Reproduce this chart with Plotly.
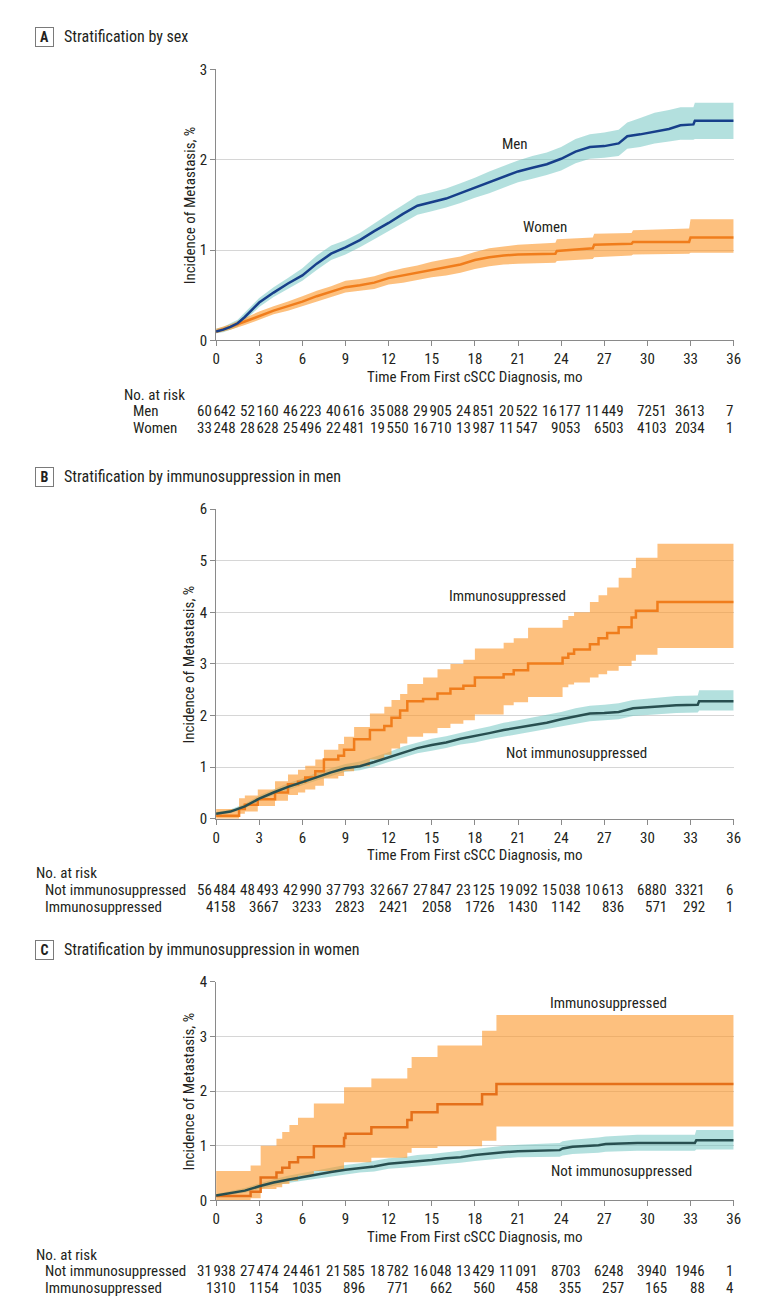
import plotly.graph_objects as go

W, H = 780, 1308
FONT = "Liberation Sans Narrow, Roboto Condensed, DejaVu Sans Condensed, Arial Narrow, sans-serif"

months = list(range(0, 37, 3))

# ---- Panel A: stratification by sex ----
men_t = [0, 0.5, 1, 1.5, 2, 3, 4, 5, 6, 7, 8, 9, 10, 11, 12, 13, 14, 15, 16, 17, 18, 19, 20, 21,
         22, 23, 24, 25, 26, 27, 28, 28.6, 29.5, 30.5, 31.5, 32.3, 33.2, 33.3, 36]
men_est = [0.10, 0.12, 0.15, 0.19, 0.26, 0.42, 0.53, 0.63, 0.72, 0.85, 0.96, 1.03, 1.11, 1.21, 1.30,
           1.40, 1.49, 1.53, 1.57, 1.63, 1.69, 1.75, 1.81, 1.87, 1.91, 1.95, 2.01, 2.09, 2.14, 2.15,
           2.18, 2.26, 2.28, 2.31, 2.34, 2.38, 2.39, 2.43, 2.43]
men_lo = [0.08, 0.09, 0.12, 0.15, 0.22, 0.37, 0.48, 0.57, 0.66, 0.78, 0.89, 0.95, 1.03, 1.12, 1.21,
          1.30, 1.39, 1.43, 1.47, 1.52, 1.58, 1.63, 1.69, 1.75, 1.79, 1.83, 1.88, 1.96, 2.01, 2.02,
          2.04, 2.12, 2.14, 2.18, 2.20, 2.22, 2.22, 2.23, 2.23]
men_hi = [0.13, 0.15, 0.19, 0.23, 0.31, 0.47, 0.59, 0.69, 0.80, 0.94, 1.05, 1.11, 1.19, 1.30, 1.40,
          1.50, 1.60, 1.64, 1.68, 1.74, 1.80, 1.87, 1.93, 1.99, 2.04, 2.08, 2.14, 2.23, 2.28, 2.30,
          2.33, 2.41, 2.46, 2.52, 2.55, 2.58, 2.58, 2.63, 2.63]

women_t = [0, 1, 2, 3, 4, 5, 6, 7, 8, 9, 10, 11, 12, 13, 14, 15, 16, 17, 18, 19, 20, 21,
           23.6, 23.7, 26.2, 26.3, 28.9, 29, 32.9, 33, 36]
women_est = [0.10, 0.15, 0.21, 0.27, 0.33, 0.38, 0.43, 0.49, 0.54, 0.59, 0.61, 0.64, 0.69, 0.72,
             0.75, 0.78, 0.81, 0.84, 0.89, 0.92, 0.94, 0.95, 0.96, 0.99, 1.02, 1.06, 1.07, 1.09,
             1.09, 1.14, 1.14]
women_lo = [0.08, 0.12, 0.17, 0.23, 0.29, 0.33, 0.38, 0.43, 0.48, 0.53, 0.55, 0.57, 0.62, 0.64,
            0.67, 0.70, 0.72, 0.75, 0.79, 0.82, 0.84, 0.85, 0.86, 0.88, 0.90, 0.92, 0.94, 0.95,
            0.96, 0.97, 0.97]
women_hi = [0.13, 0.18, 0.25, 0.32, 0.38, 0.43, 0.49, 0.55, 0.60, 0.66, 0.68, 0.71, 0.76, 0.80,
            0.83, 0.87, 0.90, 0.93, 0.98, 1.02, 1.04, 1.06, 1.08, 1.12, 1.14, 1.18, 1.19, 1.22,
            1.24, 1.34, 1.34]

# ---- Panel B: immunosuppression in men ----
bn_t = [0, 1, 2, 3, 4, 5, 6, 7, 8, 9, 10, 11, 12, 13, 14, 15, 16, 17, 18, 19, 20, 21, 22, 23,
        24, 25, 26, 27, 28, 29, 30, 31, 32, 33.5, 33.6, 36]
bn_est = [0.10, 0.14, 0.24, 0.39, 0.51, 0.62, 0.71, 0.81, 0.90, 0.98, 1.02, 1.10, 1.19, 1.29,
          1.37, 1.43, 1.48, 1.55, 1.60, 1.66, 1.72, 1.77, 1.82, 1.86, 1.93, 1.99, 2.04, 2.05,
          2.07, 2.14, 2.16, 2.18, 2.20, 2.21, 2.28, 2.28]
bn_lo = [0.08, 0.11, 0.20, 0.34, 0.46, 0.56, 0.65, 0.74, 0.83, 0.91, 0.94, 1.01, 1.10, 1.19,
         1.27, 1.32, 1.37, 1.44, 1.48, 1.54, 1.59, 1.64, 1.69, 1.73, 1.79, 1.84, 1.89, 1.91,
         1.93, 1.99, 2.01, 2.03, 2.05, 2.06, 2.10, 2.10]
bn_hi = [0.13, 0.18, 0.29, 0.45, 0.57, 0.69, 0.78, 0.89, 0.98, 1.06, 1.11, 1.20, 1.29, 1.40,
         1.48, 1.55, 1.60, 1.67, 1.73, 1.79, 1.86, 1.91, 1.96, 2.01, 2.07, 2.14, 2.19, 2.21,
         2.24, 2.30, 2.33, 2.36, 2.38, 2.39, 2.49, 2.49]

bi_t = [0, 1.6, 2.0, 2.9, 4.1, 5.0, 5.7, 6.2, 6.9, 7.5, 8.5, 8.9, 9.6, 10.7, 11.7, 12.2, 12.8,
        13.3, 14.4, 15.4, 16.3, 17.2, 18.0, 20.0, 20.7, 21.7, 24.1, 24.5, 24.9, 26.0, 26.6,
        27.2, 28.0, 28.9, 29.2, 30.7, 36]
bi_est = [0.06, 0.19, 0.27, 0.38, 0.51, 0.67, 0.72, 0.80, 0.92, 1.15, 1.22, 1.34, 1.54, 1.72,
          1.80, 1.96, 2.10, 2.28, 2.32, 2.43, 2.52, 2.58, 2.74, 2.80, 2.88, 3.01, 3.12, 3.20,
          3.28, 3.38, 3.50, 3.60, 3.71, 3.90, 4.03, 4.20, 4.20]
bi_lo = [0.00, 0.10, 0.14, 0.25, 0.35, 0.46, 0.51, 0.57, 0.64, 0.78, 0.83, 0.92, 1.02, 1.15,
         1.24, 1.36, 1.46, 1.59, 1.66, 1.76, 1.84, 1.91, 2.02, 2.20, 2.26, 2.36, 2.55, 2.60,
         2.64, 2.74, 2.80, 2.87, 2.96, 3.06, 3.18, 3.31, 3.31]
bi_hi = [0.19, 0.40, 0.45, 0.57, 0.73, 0.86, 0.95, 1.03, 1.15, 1.34, 1.45, 1.59, 1.78, 2.04,
         2.17, 2.30, 2.42, 2.61, 2.74, 2.90, 3.00, 3.08, 3.30, 3.41, 3.50, 3.70, 3.85, 3.93,
         4.00, 4.20, 4.33, 4.48, 4.67, 4.86, 5.06, 5.33, 5.33]

# ---- Panel C: immunosuppression in women ----
cn_t = [0, 1, 2, 3, 4, 5, 6, 7, 8, 9, 10, 11, 12, 13, 14, 15, 16, 17, 18, 19, 20, 21,
        23.9, 24.1, 24.8, 26.6, 27.1, 29.3, 33.3, 33.4, 36]
cn_est = [0.09, 0.14, 0.18, 0.26, 0.33, 0.38, 0.43, 0.47, 0.52, 0.56, 0.59, 0.62, 0.67, 0.69,
          0.72, 0.74, 0.77, 0.79, 0.83, 0.86, 0.88, 0.90, 0.92, 0.95, 0.98, 1.01, 1.03, 1.05,
          1.05, 1.10, 1.10]
cn_lo = [0.07, 0.11, 0.14, 0.21, 0.27, 0.32, 0.36, 0.40, 0.44, 0.48, 0.51, 0.53, 0.58, 0.60,
         0.62, 0.64, 0.67, 0.69, 0.72, 0.75, 0.77, 0.79, 0.80, 0.82, 0.85, 0.87, 0.89, 0.91,
         0.91, 0.93, 0.93]
cn_hi = [0.12, 0.17, 0.23, 0.31, 0.39, 0.45, 0.50, 0.55, 0.61, 0.65, 0.68, 0.72, 0.77, 0.79,
         0.83, 0.85, 0.88, 0.91, 0.95, 0.98, 1.00, 1.02, 1.05, 1.08, 1.11, 1.15, 1.17, 1.20,
         1.20, 1.29, 1.29]

ci_t = [0, 2.4, 3.1, 4.2, 4.6, 5.1, 5.7, 6.8, 8.9, 9.0, 10.8, 13.3, 13.6, 15.4, 18.5, 19.5, 36]
ci_est = [0.08, 0.16, 0.42, 0.51, 0.60, 0.70, 0.79, 0.99, 1.14, 1.22, 1.34, 1.47, 1.61, 1.76,
          1.94, 2.13, 2.13]
ci_lo = [0.01, 0.04, 0.21, 0.24, 0.30, 0.36, 0.45, 0.54, 0.70, 0.70, 0.78, 0.87, 0.96, 0.99,
         1.09, 1.35, 1.35]
ci_hi = [0.54, 0.64, 1.00, 1.13, 1.25, 1.38, 1.51, 1.77, 2.07, 2.07, 2.23, 2.42, 2.62, 2.83,
         3.10, 3.39, 3.39]

# numbers at risk
risk_men = [60642, 52160, 46223, 40616, 35088, 29905, 24851, 20522, 16177, 11449, 7251, 3613, 7]
risk_women = [33248, 28628, 25496, 22481, 19550, 16710, 13987, 11547, 9053, 6503, 4103, 2034, 1]
risk_b_not = [56484, 48493, 42990, 37793, 32667, 27847, 23125, 19092, 15038, 10613, 6880, 3321, 6]
risk_b_imm = [4158, 3667, 3233, 2823, 2421, 2058, 1726, 1430, 1142, 836, 571, 292, 1]
risk_c_not = [31938, 27474, 24461, 21585, 18782, 16048, 13429, 11091, 8703, 6248, 3940, 1946, 1]
risk_c_imm = [1310, 1154, 1035, 896, 771, 662, 560, 458, 355, 257, 165, 88, 4]

NAVY = "#173f8a"
ORANGE = "#f07d1c"
ORANGE_C = "#e5701a"
SLATE = "#284f50"
TEAL_BAND = "rgba(110,196,192,0.52)"
ORANGE_BAND = "rgba(251,150,40,0.6)"
TXT = "#231f20"
AX = "#8a8a8a"


def py(p):
    # pixel row -> paper y
    return 1 - p / H


fig = go.Figure()


def band(t, lo, hi, color, ax, shape):
    fig.add_trace(go.Scatter(x=t, y=lo, mode="lines", line=dict(width=0, shape=shape),
                             xaxis=ax[0], yaxis=ax[1], hoverinfo="skip", showlegend=False))
    fig.add_trace(go.Scatter(x=t, y=hi, mode="lines", line=dict(width=0, shape=shape),
                             fill="tonexty", fillcolor=color,
                             xaxis=ax[0], yaxis=ax[1], hoverinfo="skip", showlegend=False))


def curve(t, est, color, ax, shape):
    fig.add_trace(go.Scatter(x=t, y=est, mode="lines", line=dict(color=color, width=2.5, shape=shape),
                             xaxis=ax[0], yaxis=ax[1], showlegend=False))


A = ("x", "y")
B = ("x2", "y2")
C = ("x3", "y3")

band(men_t, men_lo, men_hi, TEAL_BAND, A, "linear")
band(women_t, women_lo, women_hi, ORANGE_BAND, A, "linear")
curve(women_t, women_est, ORANGE, A, "linear")
curve(men_t, men_est, NAVY, A, "linear")

band(bn_t, bn_lo, bn_hi, TEAL_BAND, B, "linear")
band(bi_t, bi_lo, bi_hi, ORANGE_BAND, B, "hv")
curve(bi_t, bi_est, ORANGE, B, "hv")
curve(bn_t, bn_est, SLATE, B, "linear")

band(cn_t, cn_lo, cn_hi, TEAL_BAND, C, "linear")
band(ci_t, ci_lo, ci_hi, ORANGE_BAND, C, "hv")
curve(ci_t, ci_est, ORANGE_C, C, "hv")
curve(cn_t, cn_est, SLATE, C, "linear")

xdom = [207 / W, 732 / W]
panels = [
    # (suffix, top px, bottom px, ymax, header letter, header text, header px, rows, label x px)
    ("", 53, 328, 3, "A", "Stratification by sex", 20,
     [("Men", risk_men), ("Women", risk_women)], 112),
    ("2", 499, 813, 6, "B", "Stratification by immunosuppression in men", 466,
     [("Not immunosuppressed", risk_b_not), ("Immunosuppressed", risk_b_imm)], 22),
    ("3", 978, 1200, 4, "C", "Stratification by immunosuppression in women", 946,
     [("Not immunosuppressed", risk_c_not), ("Immunosuppressed", risk_c_imm)], 22),
]

ann = []
axes = {}
for suf, top, bot, ymax, letter, head, hy, rows, lx in panels:
    axes["xaxis" + suf] = dict(
        domain=xdom, range=[0, 36], tickvals=months, ticks="outside", ticklen=5,
        tickcolor=AX, showline=True, linecolor=AX, linewidth=1, showgrid=False,
        zeroline=False, anchor="y" + suf, tickfont=dict(size=15, color=TXT, family=FONT),
        fixedrange=True,
    )
    axes["yaxis" + suf] = dict(
        domain=[py(bot), py(top)], range=[0, ymax], dtick=1, ticks="outside", ticklen=5,
        tickcolor=AX, showline=True, linecolor=AX, linewidth=1, showgrid=True,
        gridcolor="#d6d6d6", gridwidth=1, zeroline=False, anchor="x" + suf,
        tickfont=dict(size=15, color=TXT, family=FONT), fixedrange=True,
    )
    # header box + title
    ann.append(dict(text="<b>" + letter + "</b>", xref="paper", yref="paper", x=33 / W, y=py(hy),
                    xanchor="center", yanchor="middle", showarrow=False, width=15, height=16,
                    bordercolor="#7a7a7a", borderwidth=1, borderpad=1,
                    font=dict(size=14, color=TXT, family=FONT)))
    ann.append(dict(text=head, xref="paper", yref="paper", x=51 / W, y=py(hy),
                    xanchor="left", yanchor="middle", showarrow=False,
                    font=dict(size=16, color=TXT, family=FONT)))
    # axis titles
    ann.append(dict(text="Time From First cSCC Diagnosis, mo", xref="paper", yref="paper",
                    x=(xdom[0] + xdom[1]) / 2, y=py(bot + 37), xanchor="center", yanchor="middle",
                    showarrow=False, font=dict(size=15, color=TXT, family=FONT)))
    ann.append(dict(text="Incidence of Metastasis, %", xref="paper", yref="paper",
                    x=180 / W, y=py((top + bot) / 2), xanchor="center", yanchor="middle",
                    textangle=-90, showarrow=False, font=dict(size=15, color=TXT, family=FONT)))
    # number at risk table
    ann.append(dict(text="No. at risk", xref="paper", yref="paper", x=lx / W, y=py(bot + 55),
                    xanchor="left", yanchor="middle", showarrow=False,
                    font=dict(size=15, color=TXT, family=FONT)))
    for i, (name, vals) in enumerate(rows):
        ry = py(bot + 72 + 17 * i)
        ann.append(dict(text=name, xref="paper", yref="paper", x=(lx + 9) / W, y=ry,
                        xanchor="left", yanchor="middle", showarrow=False,
                        font=dict(size=15, color=TXT, family=FONT)))
        for m, v in zip(months, vals):
            s = f"{v:,}".replace(",", "\u200a") if v >= 10000 else str(v)
            shift = 1 if m == 36 else (16 if m == 33 else 22)
            ann.append(dict(text=s, xref="x" + suf, yref="paper", x=m, y=ry, xshift=shift,
                            xanchor="right", yanchor="middle", showarrow=False,
                            font=dict(size=15, color=TXT, family=FONT)))

# curve labels
labels = [
    ("Men", 20.8, 2.17, A), ("Women", 22.9, 1.25, A),
    ("Immunosuppressed", 20.3, 4.32, B), ("Not immunosuppressed", 25.1, 1.28, B),
    ("Immunosuppressed", 27.3, 3.6, C), ("Not immunosuppressed", 28.2, 0.54, C),
]
for txt, lxv, lyv, ax in labels:
    ann.append(dict(text=txt, x=lxv, y=lyv, xref=ax[0], yref=ax[1], showarrow=False,
                    xanchor="center", yanchor="middle", font=dict(size=15, color=TXT, family=FONT)))

fig.update_layout(
    width=W, height=H, margin=dict(l=0, r=0, t=0, b=0),
    paper_bgcolor="white", plot_bgcolor="white",
    font=dict(family=FONT, color=TXT),
    annotations=ann, showlegend=False, **axes,
)

fig.write_html("out.html")
